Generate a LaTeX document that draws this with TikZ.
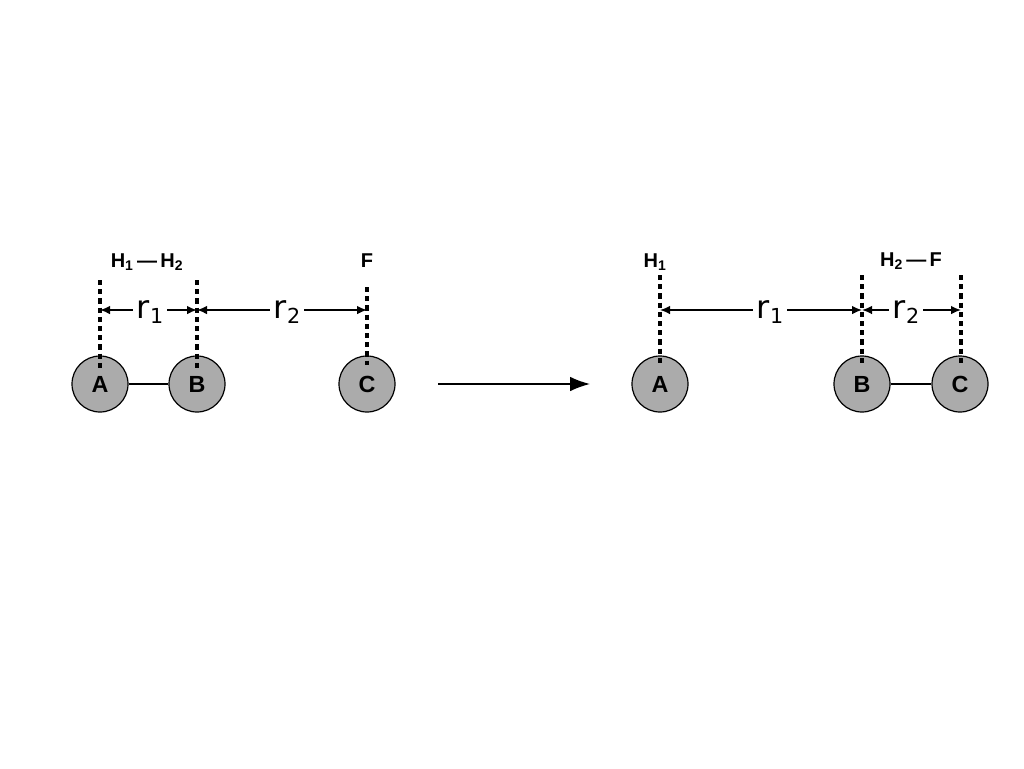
\documentclass[tikz,border=0pt]{standalone}
\usepackage{fontspec}
\setmainfont{Liberation Sans}
\newfontfamily\dvfont{DejaVu Sans}
\usetikzlibrary{arrows.meta}
\definecolor{atomgray}{HTML}{ABABAB}
\newcommand{\rsub}[1]{r\raisebox{-3.8pt}{\fontsize{15.5}{16}\selectfont #1}}
\begin{document}
\begin{tikzpicture}[x=0.75pt,y=-0.75pt,
  atom/.style={circle,draw=black,line width=0.9pt,fill=atomgray,minimum size=42pt,inner sep=0pt,font=\fontsize{17.5}{18}\selectfont\bfseries},
  bond/.style={line width=1.9pt},
  guide/.style={line width=2.4pt,dash pattern=on 3.9pt off 3pt},
  dim/.style={line width=1.2pt,{Latex[length=7.5pt,width=6.5pt]}-{Latex[length=7.5pt,width=6.5pt]}},
  rlab/.style={fill=white,inner sep=3pt,anchor=base,font=\dvfont\fontsize{24}{24}\selectfont},
  lab/.style={inner sep=0pt,font=\fontsize{15}{15}\selectfont\bfseries},
  react/.style={line width=1.2pt,-{Latex[length=15pt,width=11pt]}}]
\useasboundingbox (0,0) rectangle (1024,768);

% ---------- left: reactants ----------
\node[atom] (A1) at (100,384) {A};
\node[atom] (B1) at (197,384) {B};
\node[atom] (C1) at (367,384) {C};
\draw[bond] (A1.east) -- (B1.west);

\coordinate (dA1) at (100,310);
\coordinate (dB1) at (197,310);
\coordinate (dC1) at (367,310);
\draw[dim] (dA1) -- (dB1);
\draw[dim] (dB1) -- (dC1);
\node[rlab] (r11) at (150,318) {\rsub{1}};
\node[rlab] (r21) at (287,318) {\rsub{2}};

\coordinate (tA1) at (100,280);
\coordinate (bA1) at (100,369);
\coordinate (tB1) at (197,280);
\coordinate (bB1) at (197,369);
\coordinate (tC1) at (367,287);
\coordinate (bC1) at (367,365);
\draw[guide] (tA1) -- (bA1);
\draw[guide] (tB1) -- (bB1);
\draw[guide] (tC1) -- (bC1);

\node[lab] (L1) at (147,262) {H\textsubscript{1}\,—\,H\textsubscript{2}};
\node[lab] (F1) at (367,261) {F};

% ---------- reaction arrow ----------
\coordinate (rs) at (438,384);
\coordinate (re) at (590,384);
\draw[react] (rs) -- (re);

% ---------- right: products ----------
\node[atom] (A2) at (660,384) {A};
\node[atom] (B2) at (862,384) {B};
\node[atom] (C2) at (960,384) {C};
\draw[bond] (B2.east) -- (C2.west);

\coordinate (dA2) at (660,310);
\coordinate (dB2) at (862,310);
\coordinate (dC2) at (961,310);
\draw[dim] (dA2) -- (dB2);
\draw[dim] (dB2) -- (dC2);
\node[rlab] (r12) at (770,318) {\rsub{1}};
\node[rlab] (r22) at (906,318) {\rsub{2}};

\coordinate (tA2) at (660,275);
\coordinate (bA2) at (660,366);
\coordinate (tB2) at (862,275);
\coordinate (bB2) at (862,366);
\coordinate (tC2) at (961,275);
\coordinate (bC2) at (961,366);
\draw[guide] (tA2) -- (bA2);
\draw[guide] (tB2) -- (bB2);
\draw[guide] (tC2) -- (bC2);

\node[lab] (L2) at (655,262) {H\textsubscript{1}};
\node[lab] (L3) at (911,261) {H\textsubscript{2}\,—\,F};
\end{tikzpicture}
\end{document}
